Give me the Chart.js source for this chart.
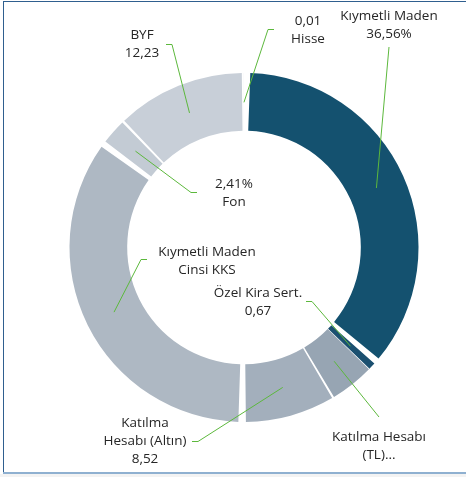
<!DOCTYPE html>
<html lang="tr">
  <head>
    <meta charset="UTF-8" />
    <title>Dağılım</title>
    <style>
      html, body { margin: 0; padding: 0; background: #fff; }
      #wrap { position: relative; width: 466px; height: 477px; }
    </style>
  </head>
  <body>
    <div id="wrap">
      <canvas id="lienzo" width="466" height="477"></canvas>
    </div>

    <script src="https://cdn.jsdelivr.net/npm/chart.js"></script>

    <script>
      // categories and values
      const kategoriler = [
        "Kıymetli Maden",
        "Özel Kira Sert.",
        "Katılma Hesabı (TL)",
        "Katılma Hesabı (Altın)",
        "Kıymetli Maden Cinsi KKS",
        "Fon",
        "BYF",
        "Hisse",
      ];
      const degerler = [36.56, 0.67, 4.21, 8.52, 35.39, 2.41, 12.23, 0.01];
      const renkler = [
        "#14516f", "#1b5070", "#97a5b3", "#a3afbc",
        "#aeb8c3", "#c3cbd4", "#c8cfd8", "#d3d9df",
      ];
      // label texts as shown on the chart
      const etiketler = [
        ["Kıymetli Maden", "36,56%"],
        ["Özel Kira Sert.", "0,67"],
        ["Katılma Hesabı", "(TL)..."],
        ["Katılma", "Hesabı (Altın)", "8,52"],
        ["Kıymetli Maden", "Cinsi KKS"],
        ["2,41%", "Fon"],
        ["BYF", "12,23"],
        ["0,01", "Hisse"],
      ];

      // where each label sits: text centre, leader anchor, tick direction
      const etiketYeri = [
        { x: 389, y: 16, ax: 389, ay: 47, tick: 0 },
        { x: 258, y: 293, ax: 312, ay: 301, tick: -6 },
        { x: 379, y: 437, ax: 379, ay: 417, tick: 0 },
        { x: 145, y: 423, ax: 198, ay: 441, tick: -6 },
        { x: 207, y: 252, ax: 141, ay: 259, tick: 6 },
        { x: 234, y: 184, ax: 191, ay: 192, tick: 6 },
        { x: 142, y: 35, ax: 172, ay: 44, tick: -6 },
        { x: 308, y: 21, ax: 268, ay: 29, tick: 6 },
      ];

      const cerceve = {
        id: "cerceve",
        beforeDraw(chart) {
          const ctx = chart.ctx;
          ctx.save();
          ctx.fillStyle = "#f3f3f3";
          ctx.fillRect(0, 474, 466, 3);
          ctx.fillStyle = "#2f5f8f";
          ctx.fillRect(3, 1, 463, 1);
          ctx.fillRect(3, 1, 1, 472);
          ctx.fillStyle = "#8fb0d0";
          ctx.fillRect(3, 472, 463, 2);
          ctx.restore();
        },
      };

      const etiketPlugin = {
        id: "etiketler",
        afterDatasetsDraw(chart) {
          const ctx = chart.ctx;
          const arcs = chart.getDatasetMeta(0).data;
          ctx.save();
          ctx.strokeStyle = "#5cb83c";
          ctx.lineWidth = 1;
          arcs.forEach((arc, i) => {
            const p = arc.getProps(["x", "y", "startAngle", "endAngle", "innerRadius", "outerRadius"], true);
            const mid = (p.startAngle + p.endAngle) / 2;
            const r = (p.innerRadius + p.outerRadius) / 2 + 4;
            const sx = p.x + Math.cos(mid) * r;
            const sy = p.y + Math.sin(mid) * r;
            const e = etiketYeri[i];
            ctx.beginPath();
            if (e.tick) {
              ctx.moveTo(e.ax + e.tick, e.ay + 0.5);
              ctx.lineTo(e.ax, e.ay + 0.5);
            } else {
              ctx.moveTo(e.ax, e.ay);
            }
            ctx.lineTo(sx, sy);
            ctx.stroke();
          });
          ctx.fillStyle = "#262626";
          ctx.font = "13.5px 'Open Sans', sans-serif";
          ctx.textAlign = "center";
          ctx.textBaseline = "middle";
          etiketler.forEach((satirlar, i) => {
            const e = etiketYeri[i];
            satirlar.forEach((s, j) => ctx.fillText(s, e.x, e.y + j * 18));
          });
          ctx.restore();
        },
      };

      const grafico = new Chart(document.querySelector("#lienzo"), {
        type: "doughnut",
        data: {
          labels: kategoriler,
          datasets: [
            {
              data: degerler,
              backgroundColor: renkler,
              borderWidth: 0,
              spacing: 9,
            },
          ],
        },
        options: {
          responsive: false,
          animation: false,
          radius: 170,
          cutout: 112,
          layout: { padding: { left: 70, right: 48, top: 73, bottom: 55 } },
          plugins: {
            legend: { display: false },
            tooltip: { enabled: false },
          },
        },
        plugins: [cerceve, etiketPlugin],
      });
    </script>
  </body>
</html>
